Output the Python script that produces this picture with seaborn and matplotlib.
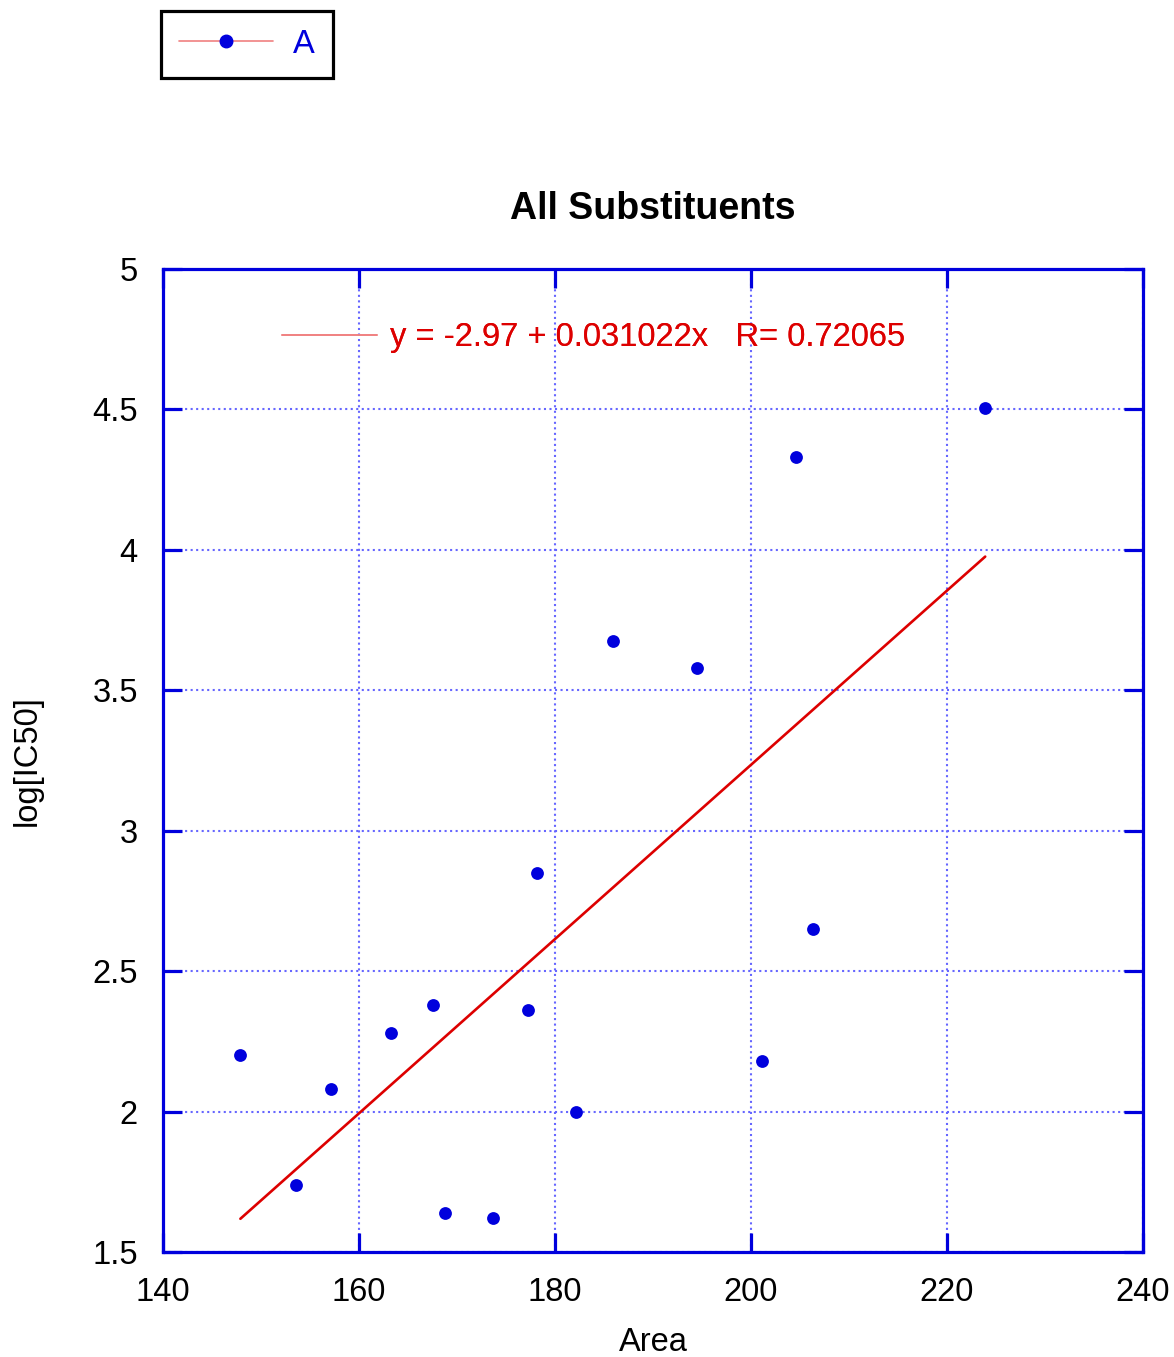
import numpy as np
import pandas as pd
import matplotlib
matplotlib.use('Agg')
import matplotlib.pyplot as plt
import seaborn as sns
from matplotlib.lines import Line2D

# ================= data =================
area = [147.9, 153.6, 157.1, 163.3, 167.6, 168.8, 173.7, 177.2, 178.2,
        182.1, 185.9, 194.5, 201.1, 204.6, 206.3, 223.9]
log_ic50 = [2.20, 1.74, 2.08, 2.28, 2.38, 1.64, 1.62, 2.36, 2.85,
            2.00, 3.675, 3.58, 2.18, 4.33, 2.65, 4.505]

fit_intercept = -2.97
fit_slope = 0.031022
fit_r = 0.72065

x_ticks = [140, 160, 180, 200, 220, 240]
y_ticks = [1.5, 2, 2.5, 3, 3.5, 4, 4.5, 5]

BLUE = '#0000dd'
RED = '#dd0000'
# ===========================================================

sns.set_style('white')
plt.rcParams['font.family'] = ['Liberation Sans', 'DejaVu Sans']
plt.rcParams['text.color'] = 'black'
plt.rcParams['axes.labelcolor'] = 'black'
plt.rcParams['xtick.labelcolor'] = 'black'
plt.rcParams['ytick.labelcolor'] = 'black'

df = pd.DataFrame({'Area': area, 'logIC50': log_ic50})
x_fit = np.array([min(area), max(area)])
fit_df = pd.DataFrame({'Area': x_fit, 'logIC50': fit_intercept + fit_slope * x_fit})

fig = plt.figure(figsize=(11.74, 13.57), dpi=100)
ax = fig.add_axes([0.1388, 0.0774, 0.8348, 0.7244])

sns.lineplot(data=fit_df, x='Area', y='logIC50', ax=ax, color=RED, linewidth=1.9, zorder=3)
sns.scatterplot(data=df, x='Area', y='logIC50', ax=ax, color=BLUE, s=85,
                edgecolor=BLUE, linewidth=0, zorder=4)

ax.set_xlim(140, 240)
ax.set_ylim(1.5, 5)
ax.set_xticks(x_ticks)
ax.set_yticks(y_ticks)
ax.set_yticklabels([f'{t:g}' for t in y_ticks])
ax.grid(True, linestyle=':', color='#6666ff', linewidth=1.5)
ax.set_axisbelow(True)
for sp in ax.spines.values():
    sp.set_color(BLUE)
    sp.set_linewidth(2.3)
ax.tick_params(direction='in', length=14, width=2.3, color=BLUE,
               bottom=True, left=True, top=True, right=True,
               labelsize=23.5, pad=18)

ax.set_xlabel('Area', fontsize=23.5, labelpad=14)
ax.set_ylabel('log[IC50]', fontsize=23.5, labelpad=36)
ax.set_title('All Substituents', fontsize=27, fontweight='bold', pad=36)

# equation legend inside axes
eq_handle = Line2D([0], [0], color='#f08080', linewidth=1.2)
eq = ax.legend([eq_handle],
               [f'y = {fit_intercept:g} + {fit_slope:g}x   R= {fit_r:g}'],
               loc='upper left', bbox_to_anchor=(0.092, 0.976), frameon=False,
               fontsize=23.5, handlelength=2.9, handletextpad=0.4, labelcolor=RED)
ax.add_artist(eq)

# series legend above the axes
a_handle = Line2D([0], [0], color='#f08080', linewidth=1.2, marker='o',
                  markersize=9, markerfacecolor=BLUE, markeredgecolor=BLUE)
leg = fig.legend([a_handle], ['A'], loc='upper left', bbox_to_anchor=(0.137, 0.992),
                 borderaxespad=0, fontsize=23.5, handlelength=2.9, handletextpad=0.6,
                 labelcolor=BLUE, frameon=True, fancybox=False, framealpha=1,
                 borderpad=0.55)
leg.get_frame().set_edgecolor('black')
leg.get_frame().set_linewidth(2.3)

fig.savefig('out.png', dpi=100)
plt.close(fig)
